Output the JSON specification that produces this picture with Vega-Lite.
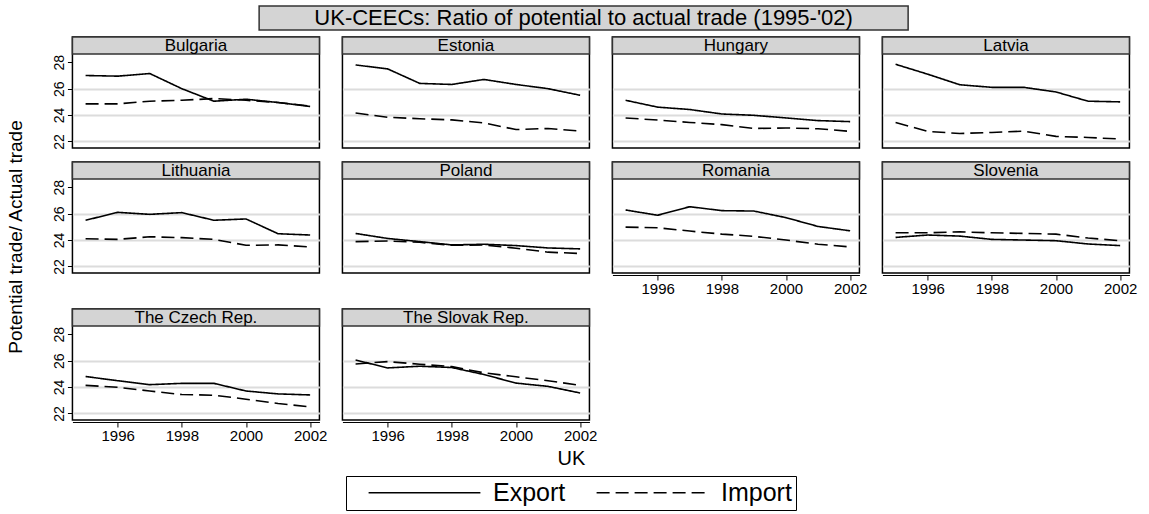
{
  "$schema": "https://vega.github.io/schema/vega-lite/v6.json",
  "background": "white",
  "padding": {"left": 5, "top": 5, "right": 5, "bottom": 2},
  "config": {
    "font": "Liberation Sans",
    "view": {"stroke": "black", "strokeWidth": 1.5},
    "text": {"color": "black", "font": "Liberation Sans"},
    "axis": {"labelColor": "black", "tickColor": "black", "domainColor": "black", "labelFont": "Liberation Sans"},
    "axisX": {"tickSize": 5, "offset": 2, "grid": false, "labelFlush": false, "labelPadding": 1, "domainWidth": 1.2, "labelFontSize": 15},
    "axisY": {"tickSize": 5, "domain": false, "gridColor": "#dcdcdc", "gridWidth": 2, "labelPadding": 1, "labelAngle": -90, "labelFontSize": 14, "labelOverlap": false},
    "legend": {
      "orient": "bottom", "direction": "horizontal", "offset": 7,
      "symbolType": "M-5,0H5", "symbolSize": 500, "symbolStrokeWidth": 1.5, "symbolStrokeColor": "black", "symbolOffset": 62,
      "labelFontSize": 25, "labelFont": "Liberation Sans", "labelColor": "black",
      "strokeColor": "black", "padding": 4, "columnPadding": 12, "labelOffset": 56,
      "layout": {"bottom": {"anchor": "middle"}}
    }
  },
  "datasets": {
    "trade": [
      {"country": "Bulgaria", "series": "Export", "year": 1995, "value": 27.0},
      {"country": "Bulgaria", "series": "Export", "year": 1996, "value": 26.95},
      {"country": "Bulgaria", "series": "Export", "year": 1997, "value": 27.15},
      {"country": "Bulgaria", "series": "Export", "year": 1998, "value": 26.0},
      {"country": "Bulgaria", "series": "Export", "year": 1999, "value": 25.05},
      {"country": "Bulgaria", "series": "Export", "year": 2000, "value": 25.2},
      {"country": "Bulgaria", "series": "Export", "year": 2001, "value": 24.95},
      {"country": "Bulgaria", "series": "Export", "year": 2002, "value": 24.65},
      {"country": "Bulgaria", "series": "Import", "year": 1995, "value": 24.85},
      {"country": "Bulgaria", "series": "Import", "year": 1996, "value": 24.85},
      {"country": "Bulgaria", "series": "Import", "year": 1997, "value": 25.05},
      {"country": "Bulgaria", "series": "Import", "year": 1998, "value": 25.12},
      {"country": "Bulgaria", "series": "Import", "year": 1999, "value": 25.25},
      {"country": "Bulgaria", "series": "Import", "year": 2000, "value": 25.12},
      {"country": "Bulgaria", "series": "Import", "year": 2001, "value": 24.95},
      {"country": "Bulgaria", "series": "Import", "year": 2002, "value": 24.68},
      {"country": "Estonia", "series": "Export", "year": 1995, "value": 27.8},
      {"country": "Estonia", "series": "Export", "year": 1996, "value": 27.5},
      {"country": "Estonia", "series": "Export", "year": 1997, "value": 26.4},
      {"country": "Estonia", "series": "Export", "year": 1998, "value": 26.32},
      {"country": "Estonia", "series": "Export", "year": 1999, "value": 26.7},
      {"country": "Estonia", "series": "Export", "year": 2000, "value": 26.32},
      {"country": "Estonia", "series": "Export", "year": 2001, "value": 26.0},
      {"country": "Estonia", "series": "Export", "year": 2002, "value": 25.5},
      {"country": "Estonia", "series": "Import", "year": 1995, "value": 24.15},
      {"country": "Estonia", "series": "Import", "year": 1996, "value": 23.83},
      {"country": "Estonia", "series": "Import", "year": 1997, "value": 23.72},
      {"country": "Estonia", "series": "Import", "year": 1998, "value": 23.63},
      {"country": "Estonia", "series": "Import", "year": 1999, "value": 23.4},
      {"country": "Estonia", "series": "Import", "year": 2000, "value": 22.9},
      {"country": "Estonia", "series": "Import", "year": 2001, "value": 22.98},
      {"country": "Estonia", "series": "Import", "year": 2002, "value": 22.78},
      {"country": "Hungary", "series": "Export", "year": 1995, "value": 25.12},
      {"country": "Hungary", "series": "Export", "year": 1996, "value": 24.6},
      {"country": "Hungary", "series": "Export", "year": 1997, "value": 24.42},
      {"country": "Hungary", "series": "Export", "year": 1998, "value": 24.08},
      {"country": "Hungary", "series": "Export", "year": 1999, "value": 23.98},
      {"country": "Hungary", "series": "Export", "year": 2000, "value": 23.78},
      {"country": "Hungary", "series": "Export", "year": 2001, "value": 23.58},
      {"country": "Hungary", "series": "Export", "year": 2002, "value": 23.5},
      {"country": "Hungary", "series": "Import", "year": 1995, "value": 23.78},
      {"country": "Hungary", "series": "Import", "year": 1996, "value": 23.62},
      {"country": "Hungary", "series": "Import", "year": 1997, "value": 23.44},
      {"country": "Hungary", "series": "Import", "year": 1998, "value": 23.27},
      {"country": "Hungary", "series": "Import", "year": 1999, "value": 22.98},
      {"country": "Hungary", "series": "Import", "year": 2000, "value": 23.02},
      {"country": "Hungary", "series": "Import", "year": 2001, "value": 22.96},
      {"country": "Hungary", "series": "Import", "year": 2002, "value": 22.76},
      {"country": "Latvia", "series": "Export", "year": 1995, "value": 27.85},
      {"country": "Latvia", "series": "Export", "year": 1996, "value": 27.1},
      {"country": "Latvia", "series": "Export", "year": 1997, "value": 26.3},
      {"country": "Latvia", "series": "Export", "year": 1998, "value": 26.1},
      {"country": "Latvia", "series": "Export", "year": 1999, "value": 26.1},
      {"country": "Latvia", "series": "Export", "year": 2000, "value": 25.75},
      {"country": "Latvia", "series": "Export", "year": 2001, "value": 25.05},
      {"country": "Latvia", "series": "Export", "year": 2002, "value": 25.0},
      {"country": "Latvia", "series": "Import", "year": 1995, "value": 23.44},
      {"country": "Latvia", "series": "Import", "year": 1996, "value": 22.76},
      {"country": "Latvia", "series": "Import", "year": 1997, "value": 22.6},
      {"country": "Latvia", "series": "Import", "year": 1998, "value": 22.68},
      {"country": "Latvia", "series": "Import", "year": 1999, "value": 22.78},
      {"country": "Latvia", "series": "Import", "year": 2000, "value": 22.38},
      {"country": "Latvia", "series": "Import", "year": 2001, "value": 22.3},
      {"country": "Latvia", "series": "Import", "year": 2002, "value": 22.18},
      {"country": "Lithuania", "series": "Export", "year": 1995, "value": 25.5},
      {"country": "Lithuania", "series": "Export", "year": 1996, "value": 26.1},
      {"country": "Lithuania", "series": "Export", "year": 1997, "value": 25.95},
      {"country": "Lithuania", "series": "Export", "year": 1998, "value": 26.08},
      {"country": "Lithuania", "series": "Export", "year": 1999, "value": 25.5},
      {"country": "Lithuania", "series": "Export", "year": 2000, "value": 25.6},
      {"country": "Lithuania", "series": "Export", "year": 2001, "value": 24.48},
      {"country": "Lithuania", "series": "Export", "year": 2002, "value": 24.38},
      {"country": "Lithuania", "series": "Import", "year": 1995, "value": 24.1},
      {"country": "Lithuania", "series": "Import", "year": 1996, "value": 24.05},
      {"country": "Lithuania", "series": "Import", "year": 1997, "value": 24.25},
      {"country": "Lithuania", "series": "Import", "year": 1998, "value": 24.18},
      {"country": "Lithuania", "series": "Import", "year": 1999, "value": 24.05},
      {"country": "Lithuania", "series": "Import", "year": 2000, "value": 23.6},
      {"country": "Lithuania", "series": "Import", "year": 2001, "value": 23.63},
      {"country": "Lithuania", "series": "Import", "year": 2002, "value": 23.48},
      {"country": "Poland", "series": "Export", "year": 1995, "value": 24.5},
      {"country": "Poland", "series": "Export", "year": 1996, "value": 24.12},
      {"country": "Poland", "series": "Export", "year": 1997, "value": 23.88},
      {"country": "Poland", "series": "Export", "year": 1998, "value": 23.63},
      {"country": "Poland", "series": "Export", "year": 1999, "value": 23.68},
      {"country": "Poland", "series": "Export", "year": 2000, "value": 23.58},
      {"country": "Poland", "series": "Export", "year": 2001, "value": 23.4},
      {"country": "Poland", "series": "Export", "year": 2002, "value": 23.33},
      {"country": "Poland", "series": "Import", "year": 1995, "value": 23.88},
      {"country": "Poland", "series": "Import", "year": 1996, "value": 23.93},
      {"country": "Poland", "series": "Import", "year": 1997, "value": 23.83},
      {"country": "Poland", "series": "Import", "year": 1998, "value": 23.6},
      {"country": "Poland", "series": "Import", "year": 1999, "value": 23.63},
      {"country": "Poland", "series": "Import", "year": 2000, "value": 23.38},
      {"country": "Poland", "series": "Import", "year": 2001, "value": 23.08},
      {"country": "Poland", "series": "Import", "year": 2002, "value": 22.98},
      {"country": "Romania", "series": "Export", "year": 1995, "value": 26.28},
      {"country": "Romania", "series": "Export", "year": 1996, "value": 25.88},
      {"country": "Romania", "series": "Export", "year": 1997, "value": 26.53},
      {"country": "Romania", "series": "Export", "year": 1998, "value": 26.23},
      {"country": "Romania", "series": "Export", "year": 1999, "value": 26.2},
      {"country": "Romania", "series": "Export", "year": 2000, "value": 25.7},
      {"country": "Romania", "series": "Export", "year": 2001, "value": 25.03},
      {"country": "Romania", "series": "Export", "year": 2002, "value": 24.7},
      {"country": "Romania", "series": "Import", "year": 1995, "value": 24.98},
      {"country": "Romania", "series": "Import", "year": 1996, "value": 24.93},
      {"country": "Romania", "series": "Import", "year": 1997, "value": 24.68},
      {"country": "Romania", "series": "Import", "year": 1998, "value": 24.45},
      {"country": "Romania", "series": "Import", "year": 1999, "value": 24.28},
      {"country": "Romania", "series": "Import", "year": 2000, "value": 24.0},
      {"country": "Romania", "series": "Import", "year": 2001, "value": 23.68},
      {"country": "Romania", "series": "Import", "year": 2002, "value": 23.48},
      {"country": "Slovenia", "series": "Export", "year": 1995, "value": 24.2},
      {"country": "Slovenia", "series": "Export", "year": 1996, "value": 24.38},
      {"country": "Slovenia", "series": "Export", "year": 1997, "value": 24.3},
      {"country": "Slovenia", "series": "Export", "year": 1998, "value": 24.05},
      {"country": "Slovenia", "series": "Export", "year": 1999, "value": 24.0},
      {"country": "Slovenia", "series": "Export", "year": 2000, "value": 23.95},
      {"country": "Slovenia", "series": "Export", "year": 2001, "value": 23.7},
      {"country": "Slovenia", "series": "Export", "year": 2002, "value": 23.58},
      {"country": "Slovenia", "series": "Import", "year": 1995, "value": 24.55},
      {"country": "Slovenia", "series": "Import", "year": 1996, "value": 24.55},
      {"country": "Slovenia", "series": "Import", "year": 1997, "value": 24.62},
      {"country": "Slovenia", "series": "Import", "year": 1998, "value": 24.55},
      {"country": "Slovenia", "series": "Import", "year": 1999, "value": 24.5},
      {"country": "Slovenia", "series": "Import", "year": 2000, "value": 24.45},
      {"country": "Slovenia", "series": "Import", "year": 2001, "value": 24.15},
      {"country": "Slovenia", "series": "Import", "year": 2002, "value": 23.95},
      {"country": "The Czech Rep.", "series": "Export", "year": 1995, "value": 24.8},
      {"country": "The Czech Rep.", "series": "Export", "year": 1996, "value": 24.48},
      {"country": "The Czech Rep.", "series": "Export", "year": 1997, "value": 24.18},
      {"country": "The Czech Rep.", "series": "Export", "year": 1998, "value": 24.28},
      {"country": "The Czech Rep.", "series": "Export", "year": 1999, "value": 24.28},
      {"country": "The Czech Rep.", "series": "Export", "year": 2000, "value": 23.7},
      {"country": "The Czech Rep.", "series": "Export", "year": 2001, "value": 23.48},
      {"country": "The Czech Rep.", "series": "Export", "year": 2002, "value": 23.4},
      {"country": "The Czech Rep.", "series": "Import", "year": 1995, "value": 24.13},
      {"country": "The Czech Rep.", "series": "Import", "year": 1996, "value": 23.98},
      {"country": "The Czech Rep.", "series": "Import", "year": 1997, "value": 23.7},
      {"country": "The Czech Rep.", "series": "Import", "year": 1998, "value": 23.43},
      {"country": "The Czech Rep.", "series": "Import", "year": 1999, "value": 23.38},
      {"country": "The Czech Rep.", "series": "Import", "year": 2000, "value": 23.08},
      {"country": "The Czech Rep.", "series": "Import", "year": 2001, "value": 22.75},
      {"country": "The Czech Rep.", "series": "Import", "year": 2002, "value": 22.5},
      {"country": "The Slovak Rep.", "series": "Export", "year": 1995, "value": 26.05},
      {"country": "The Slovak Rep.", "series": "Export", "year": 1996, "value": 25.45},
      {"country": "The Slovak Rep.", "series": "Export", "year": 1997, "value": 25.58},
      {"country": "The Slovak Rep.", "series": "Export", "year": 1998, "value": 25.48},
      {"country": "The Slovak Rep.", "series": "Export", "year": 1999, "value": 24.95},
      {"country": "The Slovak Rep.", "series": "Export", "year": 2000, "value": 24.3},
      {"country": "The Slovak Rep.", "series": "Export", "year": 2001, "value": 24.05},
      {"country": "The Slovak Rep.", "series": "Export", "year": 2002, "value": 23.55},
      {"country": "The Slovak Rep.", "series": "Import", "year": 1995, "value": 25.75},
      {"country": "The Slovak Rep.", "series": "Import", "year": 1996, "value": 25.93},
      {"country": "The Slovak Rep.", "series": "Import", "year": 1997, "value": 25.73},
      {"country": "The Slovak Rep.", "series": "Import", "year": 1998, "value": 25.55},
      {"country": "The Slovak Rep.", "series": "Import", "year": 1999, "value": 25.08},
      {"country": "The Slovak Rep.", "series": "Import", "year": 2000, "value": 24.78},
      {"country": "The Slovak Rep.", "series": "Import", "year": 2001, "value": 24.48},
      {"country": "The Slovak Rep.", "series": "Import", "year": 2002, "value": 24.13}
    ]
  },
  "spacing": 4,
  "center": true,
  "vconcat": [
    {
      "spacing": 0,
      "hconcat": [
        {
          "data": {"values": [{"t": ""}]},
          "width": 24,
          "height": 24,
          "view": {"stroke": null},
          "mark": {"type": "text"},
          "encoding": {"text": {"field": "t", "type": "nominal"}}
        },
        {
          "data": {"values": [{"t": "UK-CEECs: Ratio of potential to actual trade (1995-'02)"}]},
          "width": 649,
          "height": 24,
          "view": {"fill": "#d4d4d4", "stroke": "#333333", "strokeWidth": 1.5},
          "mark": {"type": "text", "fontSize": 22},
          "encoding": {"text": {"field": "t", "type": "nominal"}}
        }
      ]
    },
    {
      "spacing": 24,
      "hconcat": [
        {
          "data": {"values": [{"t": "Potential trade/ Actual trade"}]},
          "width": 22,
          "height": 400,
          "view": {"stroke": null},
          "mark": {"type": "text", "fontSize": 19, "angle": 270},
          "encoding": {"text": {"field": "t", "type": "nominal"}}
        },
        {
          "spacing": 10,
          "vconcat": [
            {
              "spacing": 23,
              "bounds": "flush",
              "hconcat": [
                {
                  "data": {"name": "trade"},
                  "transform": [{"filter": {"field": "country", "equal": "Bulgaria"}}],
                  "width": 247, "height": 111,
                  "resolve": {"axis": {"y": "independent"}},
                  "layer": [
                    {"mark": {"type": "line", "color": "black", "strokeWidth": 1.6},
                     "encoding": {
                       "x": {"field": "year", "type": "quantitative", "scale": {"domain": [1994.59, 2002.29], "nice": false, "zero": false}, "axis": null},
                       "y": {"field": "value", "type": "quantitative", "scale": {"domain": [21.5, 29.92], "nice": false, "zero": false},
                             "axis": {"values": [22, 24, 26, 28], "title": null, "grid": false}},
                       "strokeDash": {"field": "series", "type": "nominal", "scale": {"domain": ["Export", "Import"], "range": [[1, 0], [13, 6]]}, "legend": {"title": null}}
                     }},
                    {"transform": [{"filter": "datum.year == 1995 && datum.series == 'Export'"}],
                     "mark": {"type": "rect", "fill": "#d4d4d4", "stroke": "#333333", "strokeWidth": 1.5},
                     "encoding": {"y": {"datum": 28.63, "type": "quantitative", "axis": {"values": [22, 24, 26], "orient": "right", "grid": true, "labels": false, "ticks": false, "domain": false, "title": null}}, "y2": {"datum": 29.92}}},
                    {"transform": [{"filter": "datum.year == 1995 && datum.series == 'Export'"}],
                     "mark": {"type": "text", "fontSize": 17},
                     "encoding": {"y": {"datum": 29.27, "type": "quantitative", "axis": null}, "text": {"field": "country", "type": "nominal"}}}
                  ]
                },
                {
                  "data": {"name": "trade"},
                  "transform": [{"filter": {"field": "country", "equal": "Estonia"}}],
                  "width": 247, "height": 111,
                  "resolve": {"axis": {"y": "independent"}},
                  "layer": [
                    {"mark": {"type": "line", "color": "black", "strokeWidth": 1.6},
                     "encoding": {
                       "x": {"field": "year", "type": "quantitative", "scale": {"domain": [1994.59, 2002.29], "nice": false, "zero": false}, "axis": null},
                       "y": {"field": "value", "type": "quantitative", "scale": {"domain": [21.5, 29.92], "nice": false, "zero": false}, "axis": null},
                       "strokeDash": {"field": "series", "type": "nominal", "scale": {"domain": ["Export", "Import"], "range": [[1, 0], [13, 6]]}, "legend": {"title": null}}
                     }},
                    {"transform": [{"filter": "datum.year == 1995 && datum.series == 'Export'"}],
                     "mark": {"type": "rect", "fill": "#d4d4d4", "stroke": "#333333", "strokeWidth": 1.5},
                     "encoding": {"y": {"datum": 28.63, "type": "quantitative", "axis": {"values": [22, 24, 26], "orient": "right", "grid": true, "labels": false, "ticks": false, "domain": false, "title": null}}, "y2": {"datum": 29.92}}},
                    {"transform": [{"filter": "datum.year == 1995 && datum.series == 'Export'"}],
                     "mark": {"type": "text", "fontSize": 17},
                     "encoding": {"y": {"datum": 29.27, "type": "quantitative", "axis": null}, "text": {"field": "country", "type": "nominal"}}}
                  ]
                },
                {
                  "data": {"name": "trade"},
                  "transform": [{"filter": {"field": "country", "equal": "Hungary"}}],
                  "width": 247, "height": 111,
                  "resolve": {"axis": {"y": "independent"}},
                  "layer": [
                    {"mark": {"type": "line", "color": "black", "strokeWidth": 1.6},
                     "encoding": {
                       "x": {"field": "year", "type": "quantitative", "scale": {"domain": [1994.59, 2002.29], "nice": false, "zero": false}, "axis": null},
                       "y": {"field": "value", "type": "quantitative", "scale": {"domain": [21.5, 29.92], "nice": false, "zero": false}, "axis": null},
                       "strokeDash": {"field": "series", "type": "nominal", "scale": {"domain": ["Export", "Import"], "range": [[1, 0], [13, 6]]}, "legend": {"title": null}}
                     }},
                    {"transform": [{"filter": "datum.year == 1995 && datum.series == 'Export'"}],
                     "mark": {"type": "rect", "fill": "#d4d4d4", "stroke": "#333333", "strokeWidth": 1.5},
                     "encoding": {"y": {"datum": 28.63, "type": "quantitative", "axis": {"values": [22, 24, 26], "orient": "right", "grid": true, "labels": false, "ticks": false, "domain": false, "title": null}}, "y2": {"datum": 29.92}}},
                    {"transform": [{"filter": "datum.year == 1995 && datum.series == 'Export'"}],
                     "mark": {"type": "text", "fontSize": 17},
                     "encoding": {"y": {"datum": 29.27, "type": "quantitative", "axis": null}, "text": {"field": "country", "type": "nominal"}}}
                  ]
                },
                {
                  "data": {"name": "trade"},
                  "transform": [{"filter": {"field": "country", "equal": "Latvia"}}],
                  "width": 247, "height": 111,
                  "resolve": {"axis": {"y": "independent"}},
                  "layer": [
                    {"mark": {"type": "line", "color": "black", "strokeWidth": 1.6},
                     "encoding": {
                       "x": {"field": "year", "type": "quantitative", "scale": {"domain": [1994.59, 2002.29], "nice": false, "zero": false}, "axis": null},
                       "y": {"field": "value", "type": "quantitative", "scale": {"domain": [21.5, 29.92], "nice": false, "zero": false}, "axis": null},
                       "strokeDash": {"field": "series", "type": "nominal", "scale": {"domain": ["Export", "Import"], "range": [[1, 0], [13, 6]]}, "legend": {"title": null}}
                     }},
                    {"transform": [{"filter": "datum.year == 1995 && datum.series == 'Export'"}],
                     "mark": {"type": "rect", "fill": "#d4d4d4", "stroke": "#333333", "strokeWidth": 1.5},
                     "encoding": {"y": {"datum": 28.63, "type": "quantitative", "axis": {"values": [22, 24, 26], "orient": "right", "grid": true, "labels": false, "ticks": false, "domain": false, "title": null}}, "y2": {"datum": 29.92}}},
                    {"transform": [{"filter": "datum.year == 1995 && datum.series == 'Export'"}],
                     "mark": {"type": "text", "fontSize": 17},
                     "encoding": {"y": {"datum": 29.27, "type": "quantitative", "axis": null}, "text": {"field": "country", "type": "nominal"}}}
                  ]
                }
              ]
            },
            {
              "spacing": 23,
              "bounds": "flush",
              "hconcat": [
                {
                  "data": {"name": "trade"},
                  "transform": [{"filter": {"field": "country", "equal": "Lithuania"}}],
                  "width": 247, "height": 111,
                  "resolve": {"axis": {"y": "independent"}},
                  "layer": [
                    {"mark": {"type": "line", "color": "black", "strokeWidth": 1.6},
                     "encoding": {
                       "x": {"field": "year", "type": "quantitative", "scale": {"domain": [1994.59, 2002.29], "nice": false, "zero": false}, "axis": null},
                       "y": {"field": "value", "type": "quantitative", "scale": {"domain": [21.5, 29.92], "nice": false, "zero": false},
                             "axis": {"values": [22, 24, 26, 28], "title": null, "grid": false}},
                       "strokeDash": {"field": "series", "type": "nominal", "scale": {"domain": ["Export", "Import"], "range": [[1, 0], [13, 6]]}, "legend": {"title": null}}
                     }},
                    {"transform": [{"filter": "datum.year == 1995 && datum.series == 'Export'"}],
                     "mark": {"type": "rect", "fill": "#d4d4d4", "stroke": "#333333", "strokeWidth": 1.5},
                     "encoding": {"y": {"datum": 28.63, "type": "quantitative", "axis": {"values": [22, 24, 26], "orient": "right", "grid": true, "labels": false, "ticks": false, "domain": false, "title": null}}, "y2": {"datum": 29.92}}},
                    {"transform": [{"filter": "datum.year == 1995 && datum.series == 'Export'"}],
                     "mark": {"type": "text", "fontSize": 17},
                     "encoding": {"y": {"datum": 29.27, "type": "quantitative", "axis": null}, "text": {"field": "country", "type": "nominal"}}}
                  ]
                },
                {
                  "data": {"name": "trade"},
                  "transform": [{"filter": {"field": "country", "equal": "Poland"}}],
                  "width": 247, "height": 111,
                  "resolve": {"axis": {"y": "independent"}},
                  "layer": [
                    {"mark": {"type": "line", "color": "black", "strokeWidth": 1.6},
                     "encoding": {
                       "x": {"field": "year", "type": "quantitative", "scale": {"domain": [1994.59, 2002.29], "nice": false, "zero": false}, "axis": null},
                       "y": {"field": "value", "type": "quantitative", "scale": {"domain": [21.5, 29.92], "nice": false, "zero": false}, "axis": null},
                       "strokeDash": {"field": "series", "type": "nominal", "scale": {"domain": ["Export", "Import"], "range": [[1, 0], [13, 6]]}, "legend": {"title": null}}
                     }},
                    {"transform": [{"filter": "datum.year == 1995 && datum.series == 'Export'"}],
                     "mark": {"type": "rect", "fill": "#d4d4d4", "stroke": "#333333", "strokeWidth": 1.5},
                     "encoding": {"y": {"datum": 28.63, "type": "quantitative", "axis": {"values": [22, 24, 26], "orient": "right", "grid": true, "labels": false, "ticks": false, "domain": false, "title": null}}, "y2": {"datum": 29.92}}},
                    {"transform": [{"filter": "datum.year == 1995 && datum.series == 'Export'"}],
                     "mark": {"type": "text", "fontSize": 17},
                     "encoding": {"y": {"datum": 29.27, "type": "quantitative", "axis": null}, "text": {"field": "country", "type": "nominal"}}}
                  ]
                },
                {
                  "data": {"name": "trade"},
                  "transform": [{"filter": {"field": "country", "equal": "Romania"}}],
                  "width": 247, "height": 111,
                  "resolve": {"axis": {"y": "independent"}},
                  "layer": [
                    {"mark": {"type": "line", "color": "black", "strokeWidth": 1.6},
                     "encoding": {
                       "x": {"field": "year", "type": "quantitative", "scale": {"domain": [1994.59, 2002.29], "nice": false, "zero": false},
                             "axis": {"values": [1996, 1998, 2000, 2002], "format": "d", "title": null}},
                       "y": {"field": "value", "type": "quantitative", "scale": {"domain": [21.5, 29.92], "nice": false, "zero": false}, "axis": null},
                       "strokeDash": {"field": "series", "type": "nominal", "scale": {"domain": ["Export", "Import"], "range": [[1, 0], [13, 6]]}, "legend": {"title": null}}
                     }},
                    {"transform": [{"filter": "datum.year == 1995 && datum.series == 'Export'"}],
                     "mark": {"type": "rect", "fill": "#d4d4d4", "stroke": "#333333", "strokeWidth": 1.5},
                     "encoding": {"y": {"datum": 28.63, "type": "quantitative", "axis": {"values": [22, 24, 26], "orient": "right", "grid": true, "labels": false, "ticks": false, "domain": false, "title": null}}, "y2": {"datum": 29.92}}},
                    {"transform": [{"filter": "datum.year == 1995 && datum.series == 'Export'"}],
                     "mark": {"type": "text", "fontSize": 17},
                     "encoding": {"y": {"datum": 29.27, "type": "quantitative", "axis": null}, "text": {"field": "country", "type": "nominal"}}}
                  ]
                },
                {
                  "data": {"name": "trade"},
                  "transform": [{"filter": {"field": "country", "equal": "Slovenia"}}],
                  "width": 247, "height": 111,
                  "resolve": {"axis": {"y": "independent"}},
                  "layer": [
                    {"mark": {"type": "line", "color": "black", "strokeWidth": 1.6},
                     "encoding": {
                       "x": {"field": "year", "type": "quantitative", "scale": {"domain": [1994.59, 2002.29], "nice": false, "zero": false},
                             "axis": {"values": [1996, 1998, 2000, 2002], "format": "d", "title": null}},
                       "y": {"field": "value", "type": "quantitative", "scale": {"domain": [21.5, 29.92], "nice": false, "zero": false}, "axis": null},
                       "strokeDash": {"field": "series", "type": "nominal", "scale": {"domain": ["Export", "Import"], "range": [[1, 0], [13, 6]]}, "legend": {"title": null}}
                     }},
                    {"transform": [{"filter": "datum.year == 1995 && datum.series == 'Export'"}],
                     "mark": {"type": "rect", "fill": "#d4d4d4", "stroke": "#333333", "strokeWidth": 1.5},
                     "encoding": {"y": {"datum": 28.63, "type": "quantitative", "axis": {"values": [22, 24, 26], "orient": "right", "grid": true, "labels": false, "ticks": false, "domain": false, "title": null}}, "y2": {"datum": 29.92}}},
                    {"transform": [{"filter": "datum.year == 1995 && datum.series == 'Export'"}],
                     "mark": {"type": "text", "fontSize": 17},
                     "encoding": {"y": {"datum": 29.27, "type": "quantitative", "axis": null}, "text": {"field": "country", "type": "nominal"}}}
                  ]
                }
              ]
            },
            {
              "spacing": 23,
              "bounds": "flush",
              "hconcat": [
                {
                  "data": {"name": "trade"},
                  "transform": [{"filter": {"field": "country", "equal": "The Czech Rep."}}],
                  "width": 247, "height": 111,
                  "resolve": {"axis": {"y": "independent"}},
                  "layer": [
                    {"mark": {"type": "line", "color": "black", "strokeWidth": 1.6},
                     "encoding": {
                       "x": {"field": "year", "type": "quantitative", "scale": {"domain": [1994.59, 2002.29], "nice": false, "zero": false},
                             "axis": {"values": [1996, 1998, 2000, 2002], "format": "d", "title": null}},
                       "y": {"field": "value", "type": "quantitative", "scale": {"domain": [21.5, 29.92], "nice": false, "zero": false},
                             "axis": {"values": [22, 24, 26, 28], "title": null, "grid": false}},
                       "strokeDash": {"field": "series", "type": "nominal", "scale": {"domain": ["Export", "Import"], "range": [[1, 0], [13, 6]]}, "legend": {"title": null}}
                     }},
                    {"transform": [{"filter": "datum.year == 1995 && datum.series == 'Export'"}],
                     "mark": {"type": "rect", "fill": "#d4d4d4", "stroke": "#333333", "strokeWidth": 1.5},
                     "encoding": {"y": {"datum": 28.63, "type": "quantitative", "axis": {"values": [22, 24, 26], "orient": "right", "grid": true, "labels": false, "ticks": false, "domain": false, "title": null}}, "y2": {"datum": 29.92}}},
                    {"transform": [{"filter": "datum.year == 1995 && datum.series == 'Export'"}],
                     "mark": {"type": "text", "fontSize": 17},
                     "encoding": {"y": {"datum": 29.27, "type": "quantitative", "axis": null}, "text": {"field": "country", "type": "nominal"}}}
                  ]
                },
                {
                  "data": {"name": "trade"},
                  "transform": [{"filter": {"field": "country", "equal": "The Slovak Rep."}}],
                  "width": 247, "height": 111,
                  "resolve": {"axis": {"y": "independent"}},
                  "layer": [
                    {"mark": {"type": "line", "color": "black", "strokeWidth": 1.6},
                     "encoding": {
                       "x": {"field": "year", "type": "quantitative", "scale": {"domain": [1994.59, 2002.29], "nice": false, "zero": false},
                             "axis": {"values": [1996, 1998, 2000, 2002], "format": "d", "title": null}},
                       "y": {"field": "value", "type": "quantitative", "scale": {"domain": [21.5, 29.92], "nice": false, "zero": false}, "axis": null},
                       "strokeDash": {"field": "series", "type": "nominal", "scale": {"domain": ["Export", "Import"], "range": [[1, 0], [13, 6]]}, "legend": {"title": null}}
                     }},
                    {"transform": [{"filter": "datum.year == 1995 && datum.series == 'Export'"}],
                     "mark": {"type": "rect", "fill": "#d4d4d4", "stroke": "#333333", "strokeWidth": 1.5},
                     "encoding": {"y": {"datum": 28.63, "type": "quantitative", "axis": {"values": [22, 24, 26], "orient": "right", "grid": true, "labels": false, "ticks": false, "domain": false, "title": null}}, "y2": {"datum": 29.92}}},
                    {"transform": [{"filter": "datum.year == 1995 && datum.series == 'Export'"}],
                     "mark": {"type": "text", "fontSize": 17},
                     "encoding": {"y": {"datum": 29.27, "type": "quantitative", "axis": null}, "text": {"field": "country", "type": "nominal"}}}
                  ]
                }
              ]
            }
          ]
        }
      ]
    },
    {
      "data": {"values": [{"t": "UK"}]},
      "width": 60,
      "height": 21,
      "view": {"stroke": null},
      "mark": {"type": "text", "fontSize": 20},
      "encoding": {"text": {"field": "t", "type": "nominal"}}
    }
  ]
}
